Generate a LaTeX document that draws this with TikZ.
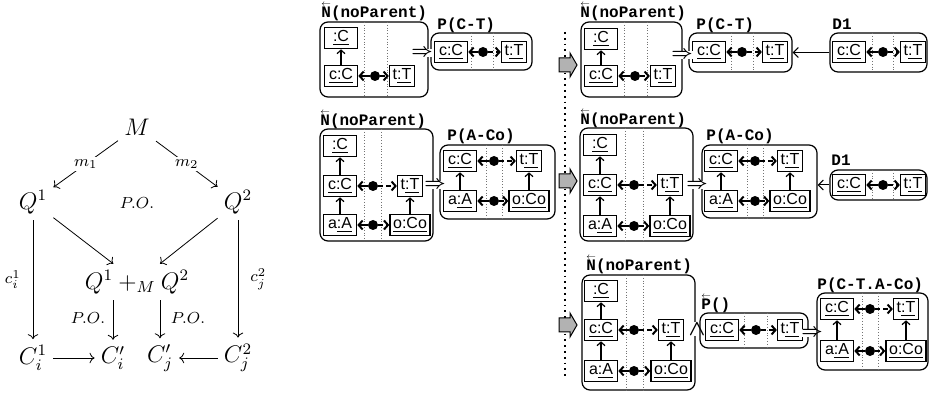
\documentclass[tikz,border=0pt]{standalone}
\usepackage{amsmath}
\usepackage{fontspec}
\setsansfont{Liberation Sans}
\setmonofont{Liberation Mono}
\usetikzlibrary{arrows.meta,fit}

\newcommand{\revarrow}[1]{\leavevmode\rlap{\raisebox{0.7em}{\resizebox{0.6em}{!}{$\leftarrow$}}}#1}

\begin{document}
\begin{tikzpicture}[
  x=0.5pt, y=-0.5pt,
  >=To,
  cdnode/.style={font=\fontsize{12}{14}\selectfont, inner sep=3pt},
  cdlab/.style={font=\fontsize{8.5}{10}\selectfont, inner sep=1pt},
  cd/.style={->, line width=0.4pt},
  panel/.style={draw, line width=0.6pt, rounded corners=4pt, inner sep=0pt},
  divider/.style={draw=black!55, densely dotted, line width=0.4pt},
  lbl/.style={font=\ttfamily\bfseries\fontsize{8}{9}\selectfont, inner sep=0pt, anchor=base west},
  obj/.style={draw, line width=0.8pt, font=\sffamily\fontsize{8}{9.5}\selectfont, inner xsep=1.5pt, inner ysep=0pt, minimum height=10.5pt},
  lobj/.style={obj, minimum width=16.5pt},
  hub/.style={circle, fill=black, inner sep=0pt, minimum size=5pt},
  inh/.style={-{Straight Barb[length=1.8pt,width=4pt]}, line width=0.6pt},
  lnk/.style={-{Straight Barb[length=2pt,width=4.5pt]}, line width=1pt},
  dlnk/.style={lnk, dash pattern=on 2.5pt off 1.5pt},
  sarr/.style={-{Straight Barb[length=2.5pt,width=5pt]}, line width=0.5pt},
  impl/.style={fill=white, inner sep=0.3pt, font=\fontsize{9}{10}\selectfont},
  phase/.style={draw, fill=black!30, line width=0.5pt}
]
\useasboundingbox (0,0) rectangle (929,394);

% pushout square
\node[cdnode] (M) at (137,127) {$M$};
\node[cdnode] (Q1) at (33,202) {$Q^1$};
\node[cdnode] (Q2) at (238,202) {$Q^2$};
\node[cdnode] (S) at (137,282) {$Q^1+_M Q^2$};
\node[cdnode] (Ci) at (33,358) {$C_i^1$};
\node[cdnode] (Cip) at (113,358) {$C'_i$};
\node[cdnode] (Cjp) at (160,358) {$C'_j$};
\node[cdnode] (Cj) at (238,358) {$C_j^2$};
\node[cdlab] (po1) at (137,203) {$P.O.$};
\node[cdlab] (po2) at (88,318) {$P.O.$};
\node[cdlab] (po3) at (188,318) {$P.O.$};

\draw[cd] (M) -- node[cdlab, fill=white] {$m_1$} (Q1);
\draw[cd] (M) -- node[cdlab, fill=white] {$m_2$} (Q2);
\draw[cd] (Q1) -- (S);
\draw[cd] (Q2) -- (S);
\draw[cd] (Q1) -- node[cdlab, left=5pt] {$c_i^1$} (Ci);
\draw[cd] (Q2) -- node[cdlab, right=5pt] {$c_j^2$} (Cj);
\draw[cd] (S.south -| Cip) -- (Cip);
\draw[cd] (S.south -| Cjp) -- (Cjp);
\draw[cd] (Ci) -- (Cip);
\draw[cd] (Cj) -- (Cjp);

% separator
\draw[line width=0.9pt, dotted] (565,32) -- (565,378);
\foreach \y in {65,181,325}
  \draw[phase] (559,\y-7) -- (570,\y-7) -- (570,\y-12) -- (577,\y) -- (570,\y+12) -- (570,\y+7) -- (559,\y+7) -- cycle;

% row 1, before
\node[panel, fit={(320,22) (428,97)}] (N1) {};
\foreach \x in {364,387} \draw[divider] (\x,22) -- (\x,97);
\node[lbl] (lN1) at (321,18) {\revarrow{N}(noParent)};
\node[lobj] (N1a) at (341,38) {\underline{:C}};
\node[lobj] (N1b) at (341,76) {\underline{c:C}};
\node[obj] (N1t) at (402,76) {t\underline{:T}};
\node[hub] (N1d) at (375,76) {};
\draw[inh] (N1b) -- (N1a);
\draw[lnk] (N1d) -- (N1b);
\draw[dlnk] (N1d) -- (N1t);

\node[panel, fit={(431,33) (532,70)}] (P1) {};
\foreach \x in {471,493} \draw[divider] (\x,33) -- (\x,70);
\node[lbl] (lP1) at (437,30) {P(C-T)};
\node[lobj] (P1b) at (451,52) {\underline{c:C}};
\node[obj] (P1t) at (514,52) {t\underline{:T}};
\node[hub] (P1d) at (483,52) {};
\draw[lnk] (P1d) -- (P1b);
\draw[dlnk] (P1d) -- (P1t);
\node[impl] (imp1) at (422,53) {$\boldsymbol{\Rightarrow}$};

% row 1, after
\node[panel, fit={(581,22) (682,97)}] (N2) {};
\foreach \x in {624,647} \draw[divider] (\x,22) -- (\x,97);
\node[lbl] (lN2) at (580,18) {\revarrow{N}(noParent)};
\node[lobj] (N2a) at (601,39) {\underline{:C}};
\node[lobj] (N2b) at (601,76) {\underline{c:C}};
\node[obj] (N2t) at (663,76) {t\underline{:T}};
\node[hub] (N2d) at (635,76) {};
\draw[inh] (N2b) -- (N2a);
\draw[lnk] (N2d) -- (N2b);
\draw[dlnk] (N2d) -- (N2t);

\node[panel, fit={(689,33) (792,72)}] (P2) {};
\foreach \x in {731,753} \draw[divider] (\x,33) -- (\x,72);
\node[lbl] (lP2) at (696,30) {P(C-T)};
\node[lobj] (P2b) at (709,52) {\underline{c:C}};
\node[obj] (P2t) at (775,52) {t\underline{:T}};
\node[hub] (P2d) at (742,52) {};
\draw[lnk] (P2d) -- (P2b);
\draw[dlnk] (P2d) -- (P2t);
\node[impl] (imp2) at (682,55) {$\boldsymbol{\Rightarrow}$};

\node[panel, fit={(830,33) (927,72)}] (D2) {};
\foreach \x in {872,893} \draw[divider] (\x,33) -- (\x,72);
\node[lbl] (lD2) at (832,30) {D1};
\node[lobj] (D2b) at (849,52) {\underline{c:C}};
\node[obj] (D2t) at (913,52) {t\underline{:T}};
\node[hub] (D2d) at (883,52) {};
\draw[lnk] (D2d) -- (D2b);
\draw[dlnk] (D2d) -- (D2t);
\draw[sarr] (D2.west) -- (D2.west -| P2.east);

% row 2, before
\node[panel, fit={(320,129) (433,241)}] (N3) {};
\foreach \x in {364,381} \draw[divider] (\x,129) -- (\x,241);
\node[lbl] (lN3) at (320,126) {\revarrow{N}(noParent)};
\node[lobj] (N3a) at (340,146) {\underline{:C}};
\node[lobj] (N3b) at (340,186) {\underline{c:C}};
\node[lobj] (N3c) at (340,225) {a\underline{:A}};
\node[obj] (N3t) at (410,186) {t\underline{:T}};
\node[obj] (N3o) at (410,225) {\underline{o:Co}};
\node[hub] (N3d) at (373,186) {};
\node[hub] (N3e) at (373,225) {};
\draw[inh] (N3b) -- (N3a);
\draw[inh] (N3c) -- (N3b);
\draw[inh] (N3o) -- (N3t);
\draw[lnk] (N3d) -- (N3b);
\draw[dlnk] (N3d) -- (N3t);
\draw[lnk] (N3e) -- (N3c);
\draw[dlnk] (N3e) -- (N3o);

\node[panel, fit={(440,145) (555,219)}] (P3) {};
\foreach \x in {486,502} \draw[divider] (\x,145) -- (\x,219);
\node[lbl] (lP3) at (447,141) {P(A-Co)};
\node[lobj] (P3b) at (460,161) {\underline{c:C}};
\node[lobj] (P3c) at (460,201) {a\underline{:A}};
\node[obj] (P3t) at (529,161) {t\underline{:T}};
\node[obj] (P3o) at (529,201) {\underline{o:Co}};
\node[hub] (P3d) at (494,161) {};
\node[hub] (P3e) at (494,201) {};
\draw[inh] (P3c) -- (P3b);
\draw[inh] (P3o) -- (P3t);
\draw[lnk] (P3d) -- (P3b);
\draw[dlnk] (P3d) -- (P3t);
\draw[lnk] (P3e) -- (P3c);
\draw[dlnk] (P3e) -- (P3o);
\node[impl] (imp3) at (435,185) {$\boldsymbol{\Rightarrow}$};

% row 2, after
\node[panel, fit={(580,128) (693,241)}] (N4) {};
\foreach \x in {625,643} \draw[divider] (\x,128) -- (\x,241);
\node[lbl] (lN4) at (580,125) {\revarrow{N}(noParent)};
\node[lobj] (N4a) at (600,145) {\underline{:C}};
\node[lobj] (N4b) at (600,185) {\underline{c:C}};
\node[lobj] (N4c) at (600,226) {a\underline{:A}};
\node[obj] (N4t) at (670,185) {t\underline{:T}};
\node[obj] (N4o) at (670,226) {\underline{o:Co}};
\node[hub] (N4d) at (634,185) {};
\node[hub] (N4e) at (634,226) {};
\draw[inh] (N4b) -- (N4a);
\draw[inh] (N4c) -- (N4b);
\draw[inh] (N4o) -- (N4t);
\draw[lnk] (N4d) -- (N4b);
\draw[dlnk] (N4d) -- (N4t);
\draw[lnk] (N4e) -- (N4c);
\draw[dlnk] (N4e) -- (N4o);

\node[panel, fit={(702,145) (817,218)}] (P4) {};
\foreach \x in {747,763} \draw[divider] (\x,145) -- (\x,218);
\node[lbl] (lP4) at (706,141) {P(A-Co)};
\node[lobj] (P4b) at (721,161) {\underline{c:C}};
\node[lobj] (P4c) at (721,201) {a\underline{:A}};
\node[obj] (P4t) at (790,161) {t\underline{:T}};
\node[obj] (P4o) at (790,201) {\underline{o:Co}};
\node[hub] (P4d) at (755,161) {};
\node[hub] (P4e) at (755,201) {};
\draw[inh] (P4c) -- (P4b);
\draw[inh] (P4o) -- (P4t);
\draw[lnk] (P4d) -- (P4b);
\draw[dlnk] (P4d) -- (P4t);
\draw[lnk] (P4e) -- (P4c);
\draw[dlnk] (P4e) -- (P4o);
\node[impl] (imp4) at (697,185) {$\boldsymbol{\Rightarrow}$};

\node[panel, fit={(830,170) (927,200)}] (D4) {};
\foreach \x in {872,893} \draw[divider] (\x,170) -- (\x,200);
\node[lbl] (lD4) at (831,166) {D1};
\node[lobj] (D4b) at (849,185) {\underline{c:C}};
\node[obj] (D4t) at (913,185) {t\underline{:T}};
\node[hub] (D4d) at (883,185) {};
\draw[lnk] (D4d) -- (D4b);
\draw[dlnk] (D4d) -- (D4t);
\draw[sarr] (D4.west) -- (D4.west -| P4.east);

% row 3
\node[panel, fit={(582,275) (695,390)}] (N5) {};
\foreach \x in {626,643} \draw[divider] (\x,275) -- (\x,390);
\node[lbl] (lN5) at (586,271) {\revarrow{N}(noParent)};
\node[lobj] (N5a) at (601,291) {\underline{:C}};
\node[lobj] (N5b) at (601,330) {\underline{c:C}};
\node[lobj] (N5c) at (601,371) {a\underline{:A}};
\node[obj] (N5t) at (671,330) {t\underline{:T}};
\node[obj] (N5o) at (671,371) {\underline{o:Co}};
\node[hub] (N5d) at (634,330) {};
\node[hub] (N5e) at (634,371) {};
\draw[inh] (N5b) -- (N5a);
\draw[inh] (N5c) -- (N5b);
\draw[inh] (N5o) -- (N5t);
\draw[lnk] (N5d) -- (N5b);
\draw[dlnk] (N5d) -- (N5t);
\draw[lnk] (N5e) -- (N5c);
\draw[dlnk] (N5e) -- (N5o);
\node[impl, font=\fontsize{11}{12}\selectfont] (and5) at (697,329) {$\boldsymbol{\wedge}$};

\node[panel, fit={(700,313) (808,348)}] (Q5) {};
\foreach \x in {744,767} \draw[divider] (\x,313) -- (\x,348);
\node[lbl] (lQ5) at (701,310) {\revarrow{P}()};
\node[lobj] (Q5b) at (722,330) {\underline{c:C}};
\node[obj] (Q5t) at (790,330) {t\underline{:T}};
\node[hub] (Q5d) at (756,330) {};
\draw[lnk] (Q5d) -- (Q5b);
\draw[dlnk] (Q5d) -- (Q5t);
\node[impl] (imp5) at (812,333) {$\boldsymbol{\Rightarrow}$};

\node[panel, fit={(817,293) (928,370)}] (P5) {};
\foreach \x in {862,878} \draw[divider] (\x,293) -- (\x,370);
\node[lbl] (lP5) at (817,290) {P(C-T.A-Co)};
\node[lobj] (P5b) at (837,309) {\underline{c:C}};
\node[lobj] (P5c) at (837,351) {a\underline{:A}};
\node[obj] (P5t) at (906,309) {t\underline{:T}};
\node[obj] (P5o) at (906,351) {\underline{o:Co}};
\node[hub] (P5d) at (870,309) {};
\node[hub] (P5e) at (870,351) {};
\draw[inh] (P5c) -- (P5b);
\draw[inh] (P5o) -- (P5t);
\draw[lnk] (P5d) -- (P5b);
\draw[dlnk] (P5d) -- (P5t);
\draw[lnk] (P5e) -- (P5c);
\draw[dlnk] (P5e) -- (P5o);

\end{tikzpicture}
\end{document}
